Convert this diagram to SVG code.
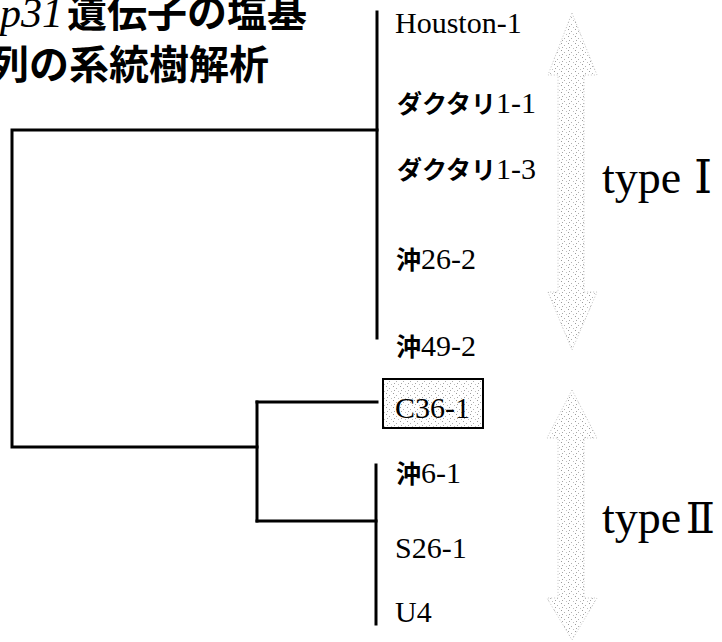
<svg xmlns="http://www.w3.org/2000/svg" width="722" height="642" viewBox="0 0 722 642">
<style>
.title{font-family:"Noto Sans CJK JP","Noto Sans",sans-serif;font-weight:bold;font-size:40px;fill:#000}
.ital{font-family:"Liberation Serif",serif;font-style:italic;font-weight:normal;font-size:42px}
.lbl{font-family:"Liberation Serif",serif;font-size:30px;fill:#000}
.jp{font-family:"Noto Sans CJK JP",sans-serif;font-weight:bold;font-size:25px}
.type{font-family:"Liberation Serif","DejaVu Serif",serif;font-size:46px;fill:#000}
.edge{fill:none;stroke:#000;stroke-width:3;stroke-linecap:square}
.arrow{fill:url(#stip);stroke:#c4c4c4;stroke-width:1;stroke-dasharray:1 2}
</style>
<defs>
<pattern id="stip" width="7" height="7" patternUnits="userSpaceOnUse">
<rect width="7" height="7" fill="#fff"/>
<rect x="1" y="1" width="1" height="1" fill="#9a9a9a"/>
<rect x="4" y="3" width="1" height="1" fill="#b0b0b0"/>
<rect x="2" y="5" width="1" height="1" fill="#a5a5a5"/>
<rect x="6" y="6" width="1" height="1" fill="#c0c0c0"/>
</pattern>
</defs>
<rect width="722" height="642" fill="#fff"/>
<g id="title">
<text class="title" x="0" y="27"><tspan class="ital">p31</tspan><tspan x="67">遺伝子の塩基</tspan></text>
<text class="title" x="-11" y="79">列の系統樹解析</text>
</g>
<g id="connectors">
<path class="edge" d="M377,12 V338"/>
<path class="edge" d="M377,130 H12 V447 H257"/>
<path class="edge" d="M257,402 V521"/>
<path class="edge" d="M257,402 H377"/>
<path class="edge" d="M257,521 H376"/>
<path class="edge" d="M376,465 V624"/>
</g>
<g id="arrow-type1"><path class="arrow" d="M572,13 L597,75 L584,75 L584,292 L597,292 L572,350 L548,292 L558,292 L558,75 L548,75 Z"/></g>
<g id="arrow-type2"><path class="arrow" d="M572,390 L597,438 L584,438 L584,598 L597,598 L572,640 L547,598 L558,598 L558,438 L547,438 Z"/></g>
<g id="n-houston"><text class="lbl" x="395" y="33">Houston-1</text></g>
<g id="n-dakutari11"><text class="lbl" x="397" y="113"><tspan class="jp">ダクタリ</tspan>1-1</text></g>
<g id="n-dakutari13"><text class="lbl" x="397" y="179"><tspan class="jp">ダクタリ</tspan>1-3</text></g>
<g id="n-oki262"><text class="lbl" x="396" y="269"><tspan class="jp">沖</tspan>26-2</text></g>
<g id="n-oki492"><text class="lbl" x="396" y="356"><tspan class="jp">沖</tspan>49-2</text></g>
<g id="n-c361"><rect x="383" y="379" width="100" height="49" fill="url(#stip)" stroke="#000" stroke-width="2"/><text class="lbl" x="395" y="418">C36-1</text></g>
<g id="n-oki61"><text class="lbl" x="396" y="483"><tspan class="jp">沖</tspan>6-1</text></g>
<g id="n-s261"><text class="lbl" x="395" y="558">S26-1</text></g>
<g id="n-u4"><text class="lbl" x="395" y="622">U4</text></g>
<g id="type1"><text class="type" x="602" y="193">type <tspan x="694">Ⅰ</tspan></text></g>
<g id="type2"><text class="type" x="602" y="533" word-spacing="-7">type <tspan font-size="43">Ⅱ</tspan></text></g>
</svg>
